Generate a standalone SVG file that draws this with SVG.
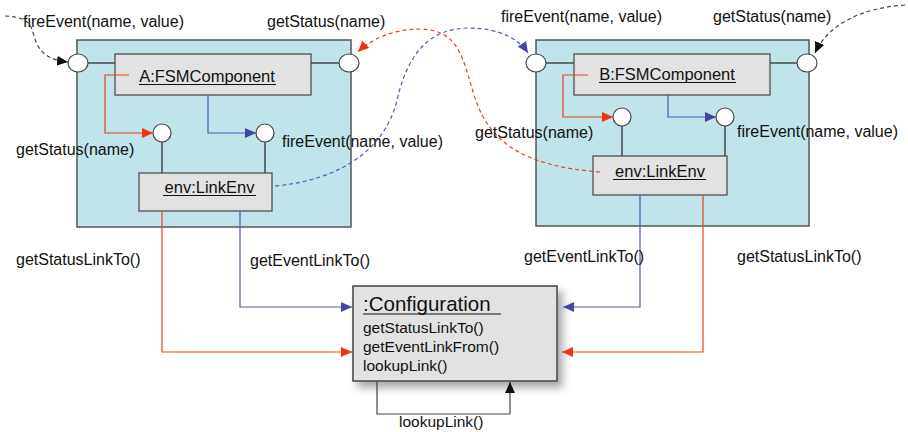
<svg xmlns="http://www.w3.org/2000/svg" width="908" height="432" viewBox="0 0 908 432">
  <defs>
    <style>
      text { font-family: "Liberation Sans", Arial, Helvetica, sans-serif; fill: #111; }
      .lbl { font-size: 16px; }
      .name { font-size: 16.5px; text-anchor: middle; }
      .meth { font-size: 15.5px; }
      .title { font-size: 20.5px; }
      .container { fill: #c0e4ea; stroke: #555; stroke-width: 1.5; }
      .part { fill: #e2e2e2; stroke: #444; stroke-width: 1.2; }
      .port { fill: #fff; stroke: #444; stroke-width: 1.2; }
      .wire { stroke: #222; stroke-width: 1.2; fill: none; }
      .uline { stroke: #111; stroke-width: 1.2; }
      .red { stroke: #e8431f; stroke-width: 1.2; fill: none; }
      .blue { stroke: #5656b0; stroke-width: 1.2; fill: none; }
      .dash { stroke-dasharray: 4 3; }
      .blk { stroke: #444; stroke-width: 1.2; fill: none; }
    </style>
    <marker id="arrRed" markerUnits="userSpaceOnUse" markerWidth="12" markerHeight="10" refX="11" refY="5" orient="auto">
      <path d="M0,0 L11,5 L0,10 Z" fill="#ee3414"/>
    </marker>
    <marker id="arrBlue" markerUnits="userSpaceOnUse" markerWidth="12" markerHeight="10" refX="11" refY="5" orient="auto">
      <path d="M0,0 L11,5 L0,10 Z" fill="#4545a8"/>
    </marker>
    <marker id="arrBlack" markerUnits="userSpaceOnUse" markerWidth="12" markerHeight="10" refX="11" refY="5" orient="auto">
      <path d="M0,0 L11,5 L0,10 Z" fill="#111"/>
    </marker>
    <filter id="shadow" x="-10%" y="-10%" width="130%" height="140%">
      <feDropShadow dx="5" dy="6" stdDeviation="4" flood-color="#000" flood-opacity="0.35"/>
    </filter>
  </defs>

  <rect width="908" height="432" fill="#fff"/>

  <!-- Component A -->
  <g id="componentA">
    <rect class="container" x="77" y="40" width="274" height="187"/>
    <line class="wire" x1="87" y1="63" x2="115" y2="63"/>
    <line class="wire" x1="311" y1="63" x2="339" y2="63"/>
    <rect class="part" x="115" y="54" width="196" height="41"/>
    <text class="name" x="207" y="82">A:FSMComponent</text>
    <line class="uline" x1="139" y1="84.5" x2="276" y2="84.5"/>
    <ellipse class="port" cx="78" cy="63" rx="10" ry="9"/>
    <ellipse class="port" cx="349" cy="63" rx="10" ry="9"/>
    <line class="wire" x1="162" y1="142" x2="162" y2="173"/>
    <line class="wire" x1="265" y1="142" x2="265" y2="173"/>
    <ellipse class="port" cx="162" cy="133" rx="9" ry="9"/>
    <ellipse class="port" cx="265" cy="133" rx="9" ry="9"/>
    <g id="linkEnvA">
      <rect class="part" x="139" y="173" width="133" height="38"/>
      <text class="name" x="209.5" y="193">env:LinkEnv</text>
      <line class="uline" x1="163" y1="195.5" x2="256" y2="195.5"/>
    </g>
  </g>

  <!-- Component B -->
  <g id="componentB">
    <rect class="container" x="536" y="40" width="273" height="186"/>
    <line class="wire" x1="546" y1="63" x2="574" y2="63"/>
    <line class="wire" x1="770" y1="63" x2="797" y2="63"/>
    <rect class="part" x="574" y="54" width="196" height="41"/>
    <text class="name" x="667" y="80">B:FSMComponent</text>
    <line class="uline" x1="599" y1="82.5" x2="736" y2="82.5"/>
    <ellipse class="port" cx="536" cy="63" rx="10" ry="9"/>
    <ellipse class="port" cx="807" cy="63" rx="10" ry="9"/>
    <line class="wire" x1="622" y1="126" x2="622" y2="156"/>
    <line class="wire" x1="725" y1="126" x2="725" y2="156"/>
    <ellipse class="port" cx="622" cy="117" rx="9" ry="9"/>
    <ellipse class="port" cx="725" cy="117" rx="9" ry="9"/>
    <g id="linkEnvB">
      <rect class="part" x="593" y="156" width="134" height="39"/>
      <text class="name" x="660" y="177">env:LinkEnv</text>
      <line class="uline" x1="613" y1="179.5" x2="706" y2="179.5"/>
    </g>
  </g>

  <!-- Configuration -->
  <g id="configuration">
    <rect x="353" y="286" width="204" height="95" fill="#e2e2e2" stroke="#444" stroke-width="1.5" filter="url(#shadow)"/>
    <text class="title" x="363" y="311">:Configuration</text>
    <line class="uline" x1="363" y1="314" x2="501" y2="314"/>
    <text class="meth" x="363" y="333">getStatusLinkTo()</text>
    <text class="meth" x="363" y="352">getEventLinkFrom()</text>
    <text class="meth" x="363" y="371">lookupLink()</text>
  </g>

  <!-- Connectors -->
  <g id="connectors">
    <!-- inside A -->
    <path class="red" d="M129,75 H105 V133 H153" marker-end="url(#arrRed)"/>
    <path class="blue" d="M208,95 V133 H256" marker-end="url(#arrBlue)"/>
    <!-- inside B -->
    <path class="red" d="M588,75 H563 V117 H613" marker-end="url(#arrRed)"/>
    <path class="blue" d="M668,95 V117 H716" marker-end="url(#arrBlue)"/>
    <!-- LinkEnv to Configuration -->
    <path class="red" d="M162,211 V352 H352" marker-end="url(#arrRed)"/>
    <path class="blue" d="M240,211 V307 H352" marker-end="url(#arrBlue)"/>
    <path class="blue" d="M640,195 V307 H563" marker-end="url(#arrBlue)"/>
    <path class="red" d="M703,195 V352 H562" marker-end="url(#arrRed)"/>
    <!-- self call -->
    <path class="blk" d="M377,381 V414 H510 V382" marker-end="url(#arrBlack)"/>
    <!-- external and cross links -->
    <path class="blk dash" d="M5,16 C28,17 31,24 34,36 C39,54 50,60 68,62" marker-end="url(#arrBlack)"/>
    <path class="blk dash" d="M905,5 C860,8 828,25 815,53" marker-end="url(#arrBlack)"/>
    <path class="red dash" d="M600,172 C520,166 488,140 474,95 C462,55 458,30 420,29 C395,29 372,38 358,52" marker-end="url(#arrRed)"/>
    <path class="blue dash" d="M275,186 C340,180 385,150 397,100 C410,45 435,29 468,28 C498,28 518,38 528,53" marker-end="url(#arrBlue)"/>
  </g>

  <!-- Labels -->
  <g id="labels">
    <text class="lbl" x="23" y="27">fireEvent(name, value)</text>
    <text class="lbl" x="267" y="27">getStatus(name)</text>
    <text class="lbl" x="16" y="155">getStatus(name)</text>
    <text class="lbl" x="282" y="147">fireEvent(name, value)</text>
    <text class="lbl" x="501" y="22">fireEvent(name, value)</text>
    <text class="lbl" x="713" y="22">getStatus(name)</text>
    <text class="lbl" x="475" y="138">getStatus(name)</text>
    <text class="lbl" x="737" y="137">fireEvent(name, value)</text>
    <text class="lbl" x="16" y="265">getStatusLinkTo()</text>
    <text class="lbl" x="250" y="266">getEventLinkTo()</text>
    <text class="lbl" x="524" y="262">getEventLinkTo()</text>
    <text class="lbl" x="737" y="262">getStatusLinkTo()</text>
    <text class="meth" x="399" y="427">lookupLink()</text>
  </g>
</svg>
